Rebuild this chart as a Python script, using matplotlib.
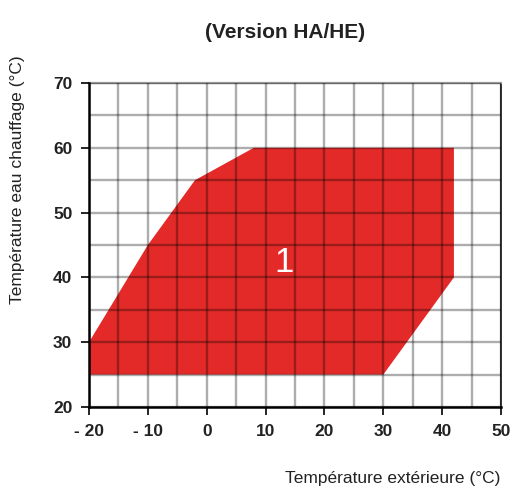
import matplotlib
matplotlib.use("Agg")
import matplotlib.pyplot as plt
import numpy as np

plt.rcParams['font.family'] = ['Liberation Sans', 'DejaVu Sans']

# data
zone_x = [-20, -20, -10, -2, 8, 42, 42, 30]
zone_y = [25, 30, 45, 55, 60, 60, 40, 25]
zone_label = "1"
x_ticks = [-20, -10, 0, 10, 20, 30, 40, 50]
y_ticks = [20, 30, 40, 50, 60, 70]
title = "(Version HA/HE)"
xlabel = "Température extérieure (°C)"
ylabel = "Température eau chauffage (°C)"

fig = plt.figure(figsize=(5.13, 4.86), dpi=100)
W, H = 513, 486
ax = fig.add_axes([89 / W, 1 - 407 / H, (501 - 89) / W, (407 - 83) / H])
ax.set_xlim(-20, 50)
ax.set_ylim(20, 70)

ax.fill(zone_x, zone_y, color='#e32a29', zorder=1, lw=0)
ax.text(13.2, 42.3, zone_label, color='white', fontsize=25, ha='center', va='center', zorder=3)

ax.set_xticks(np.arange(-15, 50, 10), minor=True)
ax.set_yticks(np.arange(25, 70, 10), minor=True)
ax.set_xticks(x_ticks)
ax.set_yticks(y_ticks)
ax.set_xticklabels([str(v).replace('-', '- ') for v in x_ticks], fontsize=12.5, fontweight='bold', color='#222222')
ax.set_yticklabels([str(v) for v in y_ticks], fontsize=12.5, fontweight='bold', color='#222222')
ax.tick_params(which='minor', length=0)
ax.tick_params(which='major', length=6, width=1.2, direction='out', pad=6)
ax.spines['top'].set_color('#999999')
ax.spines['top'].set_linewidth(1.6)
ax.spines['right'].set_color('#222222')
ax.spines['right'].set_linewidth(1.3)
for s in ['left', 'bottom']:
    ax.spines[s].set_linewidth(1.8)
    ax.spines[s].set_zorder(4)

ax.grid(which='both', color='black', alpha=0.32, linewidth=1.7)
ax.set_axisbelow(False)
for axis in (ax.xaxis, ax.yaxis):
    for t in axis.get_major_ticks() + axis.get_minor_ticks():
        t.gridline.set_color((0, 0, 0, 0.32))
        t.gridline.set_alpha(0.32)
        t.gridline.set_linewidth(1.7)
        t.gridline.set_zorder(2)

fig.text(285 / W, 1 - 32 / H, title, ha='center', va='center', fontsize=15, fontweight='bold', color='#222222')
fig.text(500 / W, 1 - 478 / H, xlabel, ha='right', va='center', fontsize=12.5, color='#222222')
fig.text(18 / W, 1 - 180 / H, ylabel, ha='center', va='center', rotation=90, fontsize=12.5, color='#222222')

fig.savefig('out.png', dpi=100)
